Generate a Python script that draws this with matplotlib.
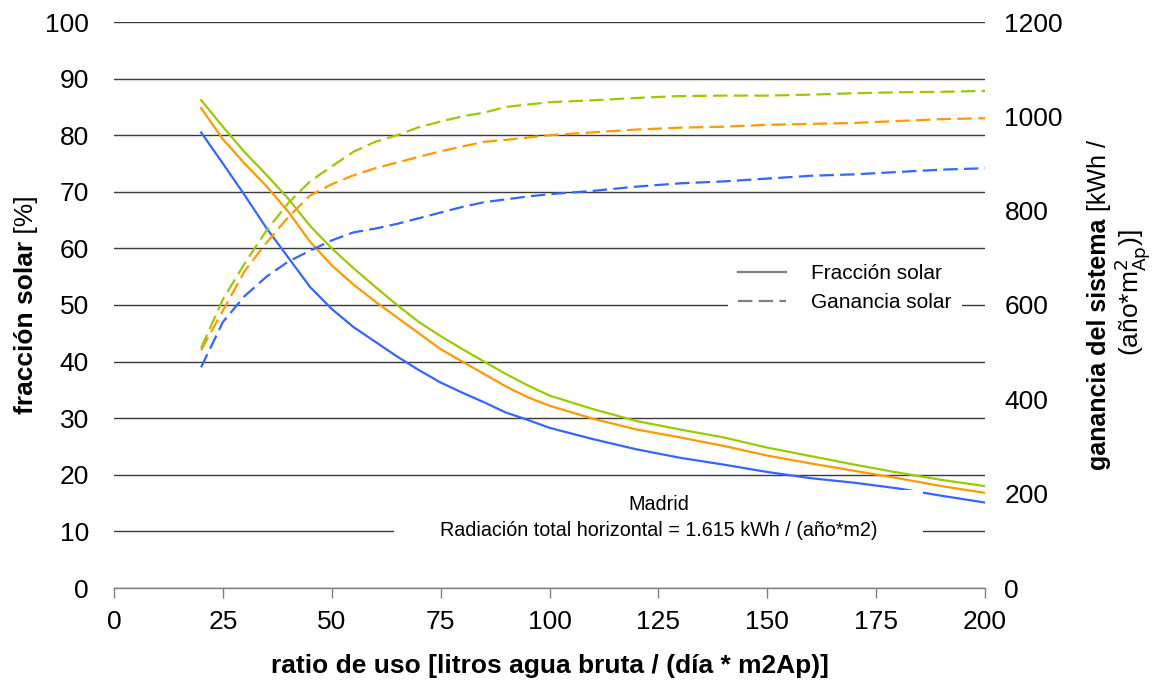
import matplotlib
matplotlib.use("Agg")
import matplotlib.pyplot as plt
from matplotlib.lines import Line2D
from matplotlib.patches import Rectangle

# ---------------- data ----------------
ratio = [20, 25, 30, 35, 40, 45, 50, 55, 60, 65, 70, 75, 80, 85, 90, 95, 100,
         110, 120, 130, 140, 150, 160, 170, 180, 190, 200]

# fracción solar [%] (left axis)
frac_blue = [80.5, 75.0, 69.4, 63.6, 58.4, 53.2, 49.3, 46.1, 43.5, 40.9, 38.5, 36.3, 34.5,
             32.8, 31.0, 29.7, 28.3, 26.3, 24.5, 23.0, 21.8, 20.5, 19.4, 18.6, 17.6, 16.3, 15.1]
frac_orange = [84.8, 79.3, 75.0, 71.0, 66.5, 61.2, 57.0, 53.6, 50.6, 47.8, 45.0, 42.2, 40.0,
               37.8, 35.6, 33.7, 32.2, 29.9, 28.0, 26.6, 25.1, 23.4, 22.0, 20.7, 19.4, 18.0, 16.8]
frac_green = [86.2, 81.5, 77.0, 73.0, 68.8, 64.0, 60.0, 56.5, 53.2, 50.0, 47.0, 44.5, 42.2,
              40.0, 37.8, 35.8, 34.0, 31.6, 29.5, 28.0, 26.6, 24.8, 23.3, 21.8, 20.4, 19.1, 18.0]

# ganancia del sistema [kWh/(año*m2Ap)] (right axis)
gan_blue = [468, 564, 619, 660, 692, 715, 737, 754, 762, 772, 784, 796, 808, 818, 824, 830,
            835, 842, 851, 858, 862, 868, 874, 877, 882, 887, 890]
gan_orange = [504, 588, 672, 732, 786, 832, 856, 875, 890, 902, 914, 926, 936, 946, 950, 955,
              960, 966, 972, 976, 978, 982, 984, 986, 990, 994, 996]
gan_green = [509, 612, 688, 758, 816, 862, 894, 925, 946, 960, 977, 989, 1000, 1008, 1020,
             1025, 1030, 1034, 1039, 1043, 1044, 1044, 1046, 1049, 1051, 1052, 1054]

x_ticks = [0, 25, 50, 75, 100, 125, 150, 175, 200]
left_ticks = [0, 10, 20, 30, 40, 50, 60, 70, 80, 90, 100]
right_ticks = [0, 200, 400, 600, 800, 1000, 1200]

legend_labels = ["Fracción solar", "Ganancia solar"]
annot_text = "Madrid\nRadiación total horizontal = 1.615 kWh / (año*m2)"

# ---------------- style ----------------
plt.rcParams['font.family'] = ['Liberation Sans', 'DejaVu Sans']
BLUE, ORANGE, GREEN = '#3366FF', '#FF9900', '#99CC00'
W, H = 1152, 686
fig = plt.figure(figsize=(W / 100, H / 100), dpi=100)
L, R, B, T = 114, 985, 588, 22
ax = fig.add_axes([L / W, 1 - B / H, (R - L) / W, (B - T) / H])
ax2 = ax.twinx()

lw = 1.6
dash = (6.5, 2.8)
ax.plot(ratio, frac_blue, color=BLUE, lw=lw, zorder=3)
ax.plot(ratio, frac_orange, color=ORANGE, lw=lw, zorder=3)
ax.plot(ratio, frac_green, color=GREEN, lw=lw, zorder=3)
ax2.plot(ratio, gan_blue, color=BLUE, lw=lw, dashes=dash)
ax2.plot(ratio, gan_orange, color=ORANGE, lw=lw, dashes=dash)
ax2.plot(ratio, gan_green, color=GREEN, lw=lw, dashes=dash)

ax.set_xlim(0, 200)
ax.set_ylim(0, 100)
ax2.set_ylim(0, 1200)
ax.set_xticks(x_ticks)
ax.set_yticks(left_ticks)
ax2.set_yticks(right_ticks)

for a in (ax, ax2):
    for s in ('top', 'left', 'right'):
        a.spines[s].set_visible(False)
    a.spines['bottom'].set_color('#808080')
    a.spines['bottom'].set_linewidth(1.0)
ax2.spines['bottom'].set_visible(False)

ax.set_axisbelow(True)
ax.yaxis.grid(True, color='#3a3a3a', lw=1.0)
ax.tick_params(axis='y', length=0, pad=18, labelsize=19)
ax2.tick_params(axis='y', length=0, pad=14, labelsize=19)
ax.tick_params(axis='x', length=7, width=1, color='#808080', pad=9, labelsize=19)

# x label
ax.set_xlabel("ratio de uso [litros agua bruta / (día * m2Ap)]", fontsize=19,
              fontweight='bold', labelpad=14)

# legend
handles = [Line2D([], [], color='#808080', lw=lw),
           Line2D([], [], color='#808080', lw=lw, dashes=dash)]
leg = ax2.legend(handles, legend_labels, loc='center',
                 bbox_to_anchor=(0.839, 0.530), fontsize=15, frameon=True,
                 handlelength=2.3, handletextpad=1.2, labelspacing=0.5,
                 borderpad=0.5, fancybox=False)
leg.get_frame().set_facecolor('white')
leg.get_frame().set_edgecolor('none')
leg.get_frame().set_alpha(1)

# annotation box (white, hides gridline and lines behind)
box_x0, box_x1, box_y0, box_y1 = 64.2, 185.8, 7.4, 17.3
ax2.add_patch(Rectangle((box_x0, box_y0), box_x1 - box_x0, box_y1 - box_y0,
                        transform=ax.transData, facecolor='white', edgecolor='none',
                        zorder=5))
ax2.text((box_x0 + box_x1) / 2, 12.5, annot_text, transform=ax.transData,
         ha='center', va='center', fontsize=14.2, linespacing=1.45, zorder=6)

# rotated labels made of bold + normal pieces
fig.canvas.draw()
renderer = fig.canvas.get_renderer()


def rotated_label(xpix, ycenter_pix, pieces):
    texts = []
    for s, wt, fs in pieces:
        t = fig.text(0, 0, s, rotation=90, rotation_mode='anchor', ha='left',
                     va='baseline', fontsize=fs, fontweight=wt,
                     transform=None)
        texts.append(t)
    lengths = [t.get_window_extent(renderer).height for t in texts]
    total = sum(lengths)
    y = ycenter_pix - total / 2
    for t, ln in zip(texts, lengths):
        t.set_position((xpix, y))
        y += ln


rotated_label(33, H - 305, [("fracción solar", 'bold', 19), (" [%]", 'normal', 19)])
rotated_label(1106, H - 305, [("ganancia del sistema", 'bold', 18),
                              (" [kWh /", 'normal', 18)])
rotated_label(1139, H - 293, [(r"(año*m$^{2}_{\mathrm{Ap}}$)]", 'normal', 19)])

fig.savefig("out.png", dpi=100)
